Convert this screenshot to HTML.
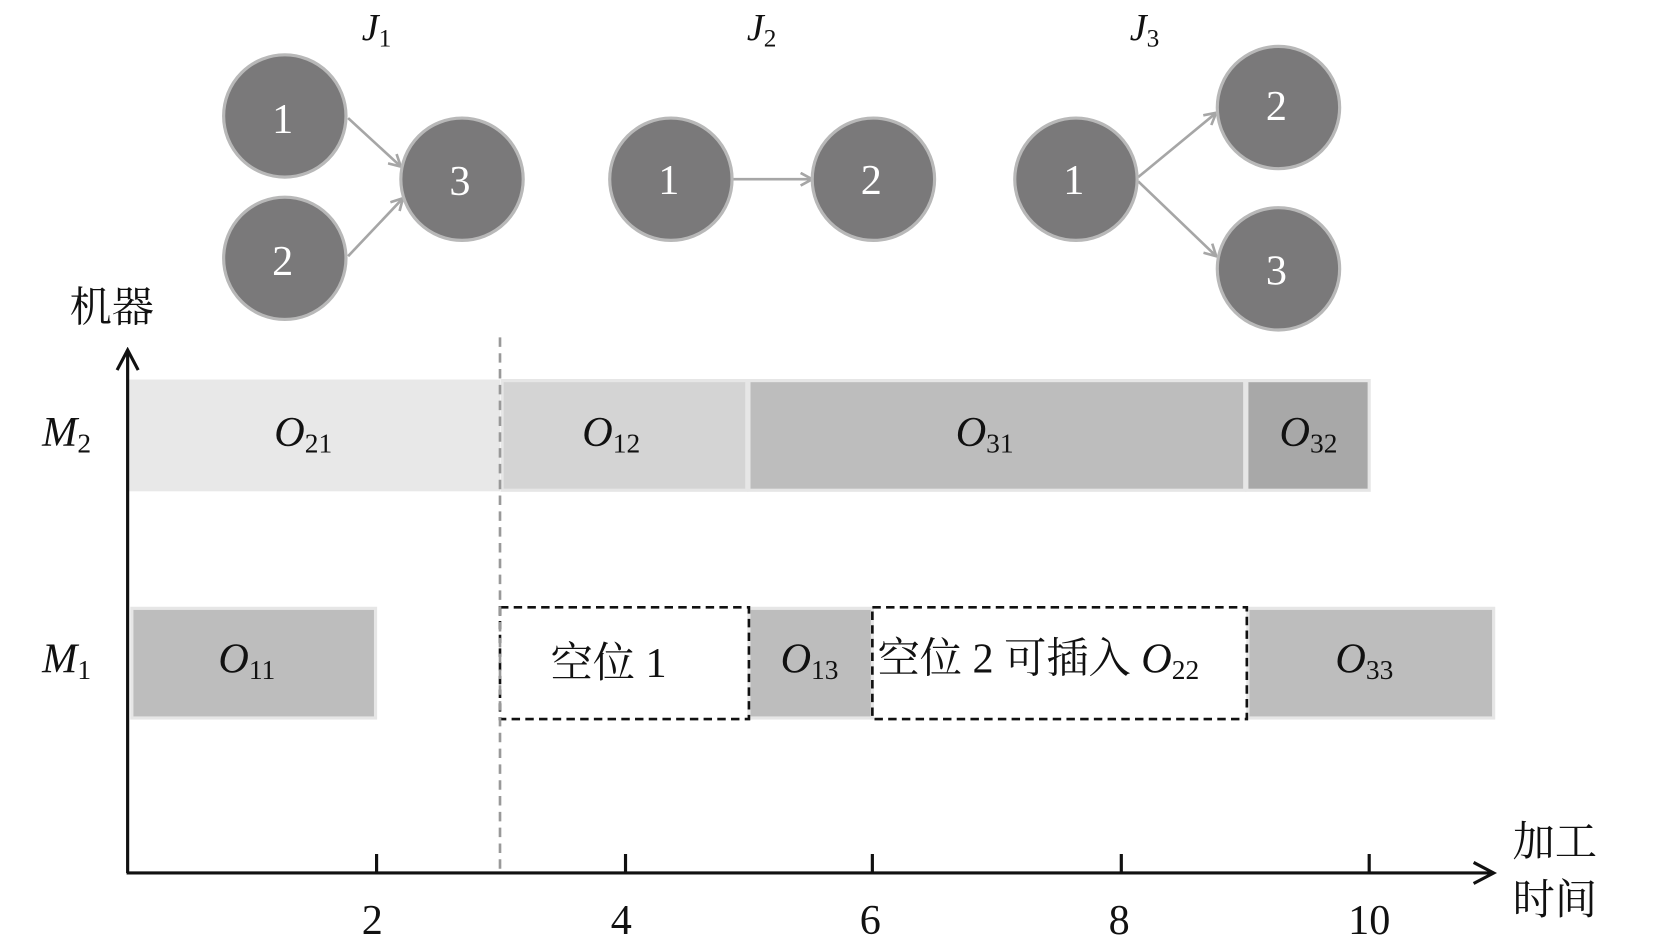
<!DOCTYPE html>
<html><head><meta charset="utf-8"><style>
html,body{margin:0;padding:0;background:#fff;width:1654px;height:951px;overflow:hidden}
svg{display:block}
text{font-family:"Liberation Serif","Noto Serif CJK SC",serif}
.cj{font-family:"Liberation Serif","Noto Serif CJK SC","Noto Sans CJK SC",serif}
</style></head><body>
<svg width="1654" height="951" viewBox="0 0 1568 902" preserveAspectRatio="none">
<defs>
<marker id="ga" markerWidth="14" markerHeight="14" refX="12" refY="7" orient="auto" markerUnits="userSpaceOnUse">
<path d="M1,1 L12,7 L1,13" fill="none" stroke="#a6a6a6" stroke-width="2.5"/></marker>
<marker id="ba" markerWidth="24" markerHeight="24" refX="21" refY="12" orient="auto" markerUnits="userSpaceOnUse">
<path d="M2,2 L21,12 L2,22" fill="none" stroke="#111" stroke-width="3"/></marker>
</defs>
<g stroke="#a6a6a6" stroke-width="2.5" fill="none">
<line x1="330" y1="112" x2="380" y2="158" marker-end="url(#ga)"/>
<line x1="330" y1="243" x2="382" y2="188" marker-end="url(#ga)"/>
<line x1="695" y1="170" x2="770" y2="170" marker-end="url(#ga)"/>
<line x1="1079" y1="168" x2="1153" y2="107" marker-end="url(#ga)"/>
<line x1="1079" y1="172" x2="1153" y2="243" marker-end="url(#ga)"/>
</g>
<g fill="#7a797a" stroke="#b8b8b8" stroke-width="3">
<circle cx="270" cy="110" r="58"/><circle cx="270" cy="245" r="58"/><circle cx="438" cy="170" r="58"/>
<circle cx="636" cy="170" r="58"/><circle cx="828" cy="170" r="58"/>
<circle cx="1020" cy="170" r="58"/><circle cx="1212" cy="102" r="58"/><circle cx="1212" cy="255" r="58"/>
</g>
<g fill="#fff" font-size="40" text-anchor="middle">
<text x="268" y="126">1</text><text x="268" y="261">2</text><text x="436" y="185">3</text>
<text x="634" y="184">1</text><text x="826" y="184">2</text>
<text x="1018" y="184">1</text><text x="1210" y="114">2</text><text x="1210" y="270">3</text>
</g>
<g font-size="36" fill="#111">
<text x="343" y="38" font-style="italic">J<tspan font-size="24" font-style="normal" dy="6">1</tspan></text>
<text x="708" y="38" font-style="italic">J<tspan font-size="24" font-style="normal" dy="6">2</tspan></text>
<text x="1071" y="38" font-style="italic">J<tspan font-size="24" font-style="normal" dy="6">3</tspan></text>
</g>
<rect x="122" y="360" width="352" height="106" fill="#e8e8e8"/>
<g stroke="#e6e6e6" stroke-width="3">
<rect x="476" y="361" width="232" height="104" fill="#d4d4d4"/>
<rect x="710" y="361" width="470" height="104" fill="#bdbdbd"/>
<rect x="1182" y="361" width="116" height="104" fill="#a8a8a8"/>
<rect x="125" y="577" width="231" height="104" fill="#bdbdbd"/>
<rect x="710" y="577" width="117" height="104" fill="#bdbdbd"/>
<rect x="1183" y="577" width="233" height="104" fill="#bdbdbd"/>
</g>
<g fill="none" stroke="#111" stroke-width="2.5" stroke-dasharray="8,5">
<rect x="474" y="576" width="236" height="106"/>
<rect x="827" y="576" width="355" height="106"/>
</g>
<line x1="474" y1="320" x2="474" y2="828" stroke="#999" stroke-width="2.5" stroke-dasharray="9,6"/>
<g stroke="#111" stroke-width="3">
<line x1="121" y1="828" x2="121" y2="332" marker-end="url(#ba)"/>
<line x1="120" y1="828" x2="1416" y2="828" marker-end="url(#ba)"/>
<line x1="357" y1="810" x2="357" y2="828"/><line x1="593" y1="810" x2="593" y2="828"/>
<line x1="827" y1="810" x2="827" y2="828"/><line x1="1063" y1="810" x2="1063" y2="828"/>
<line x1="1298" y1="810" x2="1298" y2="828"/>
</g>
<g font-size="40" fill="#111" text-anchor="middle">
<text x="353" y="886">2</text><text x="589" y="886">4</text><text x="825" y="886">6</text>
<text x="1061" y="886">8</text><text x="1298" y="886">10</text>
</g>
<g class="cj" font-size="40" fill="#111">
<text x="66" y="305">机器</text>
<text x="1434" y="812">加工</text>
<text x="1434" y="867">时间</text>
</g>
<g font-size="40" fill="#111" font-style="italic">
<text x="40" y="423">M<tspan font-size="26" font-style="normal" dy="6">2</tspan></text>
<text x="40" y="638">M<tspan font-size="26" font-style="normal" dy="6">1</tspan></text>
<text x="260" y="423">O<tspan font-size="26" font-style="normal" dy="6">21</tspan></text>
<text x="552" y="423">O<tspan font-size="26" font-style="normal" dy="6">12</tspan></text>
<text x="906" y="423">O<tspan font-size="26" font-style="normal" dy="6">31</tspan></text>
<text x="1213" y="423">O<tspan font-size="26" font-style="normal" dy="6">32</tspan></text>
<text x="207" y="638">O<tspan font-size="26" font-style="normal" dy="6">11</tspan></text>
<text x="740" y="638">O<tspan font-size="26" font-style="normal" dy="6">13</tspan></text>
<text x="1266" y="638">O<tspan font-size="26" font-style="normal" dy="6">33</tspan></text>
</g>
<text class="cj" x="522" y="642" font-size="40" fill="#111">空位 1</text>
<text class="cj" x="832" y="638" font-size="40" fill="#111">空位 2 可插入 <tspan font-style="italic">O</tspan><tspan font-size="26" dy="6">22</tspan></text>
</svg>
</body></html>
